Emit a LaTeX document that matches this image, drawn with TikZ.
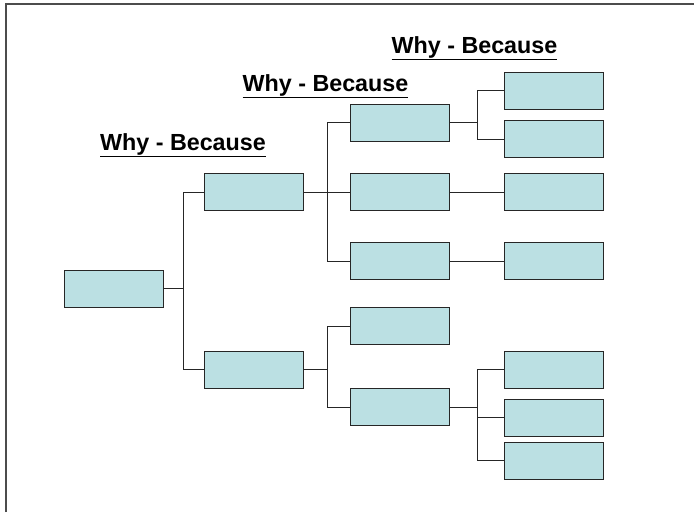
\documentclass[tikz,border=0pt]{standalone}
\usepackage{fontspec}
\setmainfont{Liberation Sans}
\begin{document}
\begin{tikzpicture}[x=1pt,y=-1pt,
  cause/.style={draw=black!85,line width=0.9pt,fill={rgb,255:red,187;green,224;blue,227},
    minimum width=99pt,minimum height=37pt,inner sep=0pt},
  link/.style={draw=black!85,line width=1pt},
  heading/.style={anchor=base,font=\fontsize{23.3}{26}\selectfont\bfseries,inner sep=0pt}]
\useasboundingbox (0,0) rectangle (694,512);
% page frame
\draw[black!70,line width=2pt] (5.5,512) -- (5.5,3.5) -- (694,3.5);

% column headings
\node[heading] (h1) at (183,150) {\underline{Why - Because}};
\node[heading] (h2) at (325.5,91) {\underline{Why - Because}};
\node[heading] (h3) at (474.5,53) {\underline{Why - Because}};

% boxes
\node[cause] (root) at (113.5,288.5) {};
\node[cause] (a) at (253.5,192) {};
\node[cause] (b) at (253.5,369.5) {};
\node[cause] (a1) at (399.5,122.5) {};
\node[cause] (a2) at (399.5,192) {};
\node[cause] (a3) at (399.5,261) {};
\node[cause] (b1) at (399.5,326) {};
\node[cause] (b2) at (399.5,407) {};
\node[cause] (a1x) at (553.5,90.5) {};
\node[cause] (a1y) at (553.5,139) {};
\node[cause] (a2x) at (553.5,192) {};
\node[cause] (a3x) at (553.5,261) {};
\node[cause] (b2x) at (553.5,369.5) {};
\node[cause] (b2y) at (553.5,417.5) {};
\node[cause] (b2z) at (553.5,460.5) {};

% connectors
\draw[link] (root.east) -- ++(20,0) |- (a.west);
\draw[link] (root.east) -- ++(20,0) |- (b.west);
\draw[link] (a.east) -- ++(24,0) |- (a1.west);
\draw[link] (a.east) -- (a2.west);
\draw[link] (a.east) -- ++(24,0) |- (a3.west);
\draw[link] (b.east) -- ++(24,0) |- (b1.west);
\draw[link] (b.east) -- ++(24,0) |- (b2.west);
\draw[link] (a1.east) -- ++(28,0) |- (a1x.west);
\draw[link] (a1.east) -- ++(28,0) |- (a1y.west);
\draw[link] (a2.east) -- (a2x.west);
\draw[link] (a3.east) -- (a3x.west);
\draw[link] (b2.east) -- ++(28,0) |- (b2x.west);
\draw[link] (b2.east) -- ++(28,0) |- (b2y.west);
\draw[link] (b2.east) -- ++(28,0) |- (b2z.west);
\end{tikzpicture}
\end{document}
